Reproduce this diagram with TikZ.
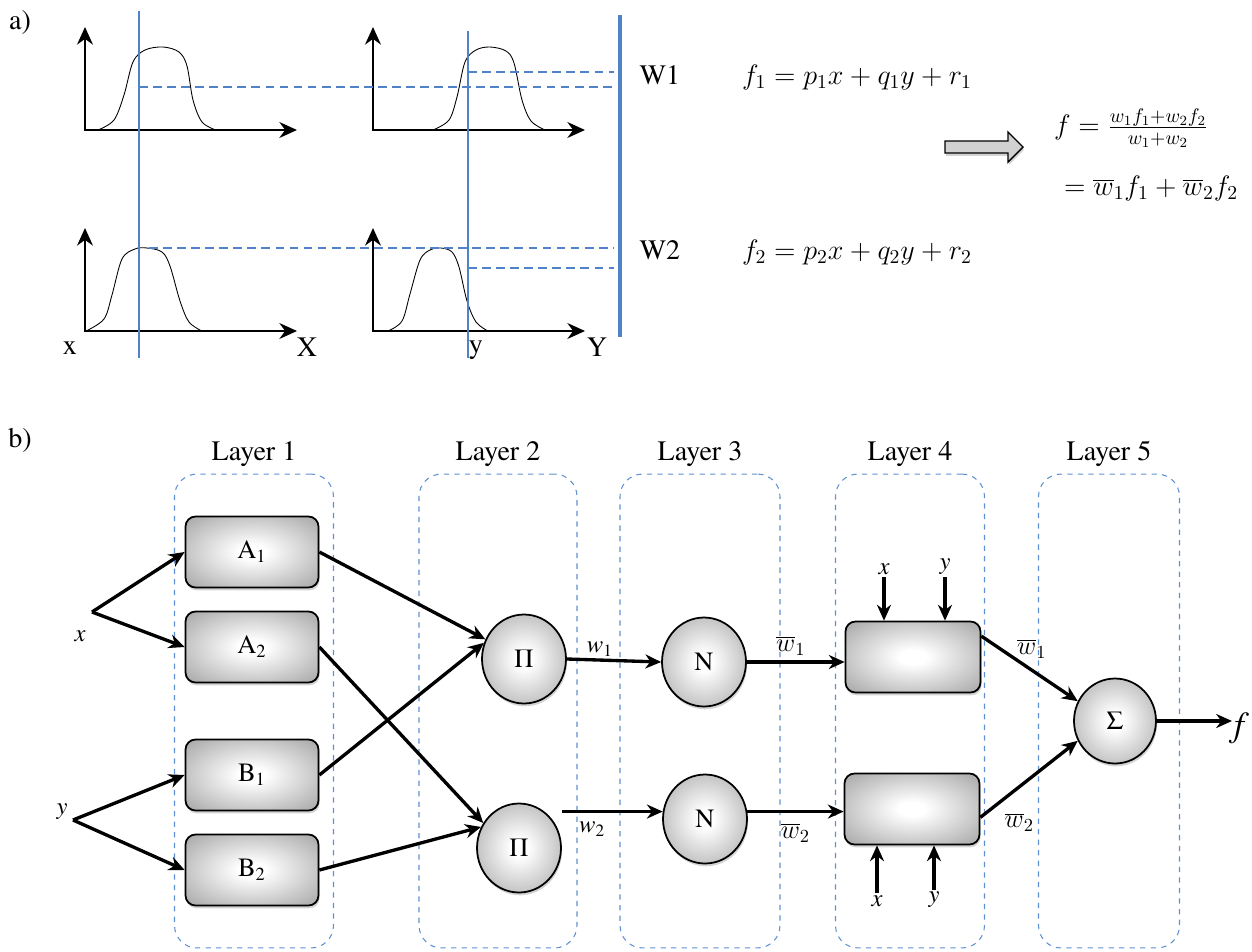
\documentclass[tikz,border=0pt]{standalone}
\usepackage{fix-cm}
\usepackage{fontspec}
\setmainfont{TeX Gyre Termes}
\usepackage{tikz}
\usetikzlibrary{arrows.meta,positioning,shapes.geometric,shadows}
\definecolor{cutblue}{RGB}{80,130,200}
\definecolor{layerblue}{RGB}{95,145,210}
\pgfdeclareradialshading{glow}{\pgfpoint{0bp}{0bp}}{color(0bp)=(white); color(5bp)=(white); color(50bp)=(black!52); color(72bp)=(black!65)}

\begin{document}
\begin{tikzpicture}[x=0.02cm, y=-0.02cm,
		txt/.style={font=\fontsize{16}{19}\selectfont, inner sep=1pt},
		small/.style={font=\fontsize{14}{17}\selectfont, inner sep=1pt},
		lab/.style={font=\fontsize{15}{18}\selectfont, inner sep=1pt},
		axes/.style={line width=1.4pt, {Stealth[length=10pt,width=9pt]}-{Stealth[length=10pt,width=9pt]}},
		bell/.style={line width=0.5pt},
		cut/.style={draw=cutblue, line width=1.3pt},
		level/.style={draw=cutblue, line width=1.2pt, dash pattern=on 5pt off 3pt},
		layer/.style={draw=layerblue, line width=0.6pt, dashed, rounded corners=0.45cm, minimum height=9.48cm, minimum width=#1},
		mf/.style={draw, line width=1pt, rounded corners=0.2cm, shade, shading=glow, minimum width=2.66cm, minimum height=1.42cm, drop shadow={opacity=0.35, shadow xshift=0.6pt, shadow yshift=-1.6pt}, font=\fontsize{15}{18}\selectfont},
		neuron/.style={ellipse, draw, line width=1pt, shade, shading=glow, minimum width=1.68cm, minimum height=1.78cm, drop shadow={opacity=0.35, shadow xshift=0.6pt, shadow yshift=-1.6pt}, font=\fontsize{15}{18}\selectfont},
		conn/.style={line width=1.9pt, -{Stealth[length=9pt,width=8pt]}}]
	\useasboundingbox (0,0) rectangle (1252,951);

	\node[txt] (tagA) at (20,22) {a)};
	\foreach \ox/\oy in {85/130,373/130,85/331,373/331} {
		\draw[axes] (\ox,\oy-103) -- (\ox,\oy) -- (\ox+212,\oy);
	}
	\draw[bell] plot[smooth, tension=0.55] coordinates {(98,130) (114,120) (124,95) (133,62) (145,50) (163,47) (179,52) (187,66) (193,100) (202,122) (216,130)};
	\draw[bell] plot[smooth, tension=0.55] coordinates {(433,130) (449,120) (457,97) (465,62) (476,50) (490,47) (506,51) (514,63) (522,100) (531,121) (545,130)};
	\draw[bell] plot[smooth, tension=0.55] coordinates {(86,331) (104,319) (112,295) (122,259) (135,249) (147,248) (162,252) (170,266) (180,301) (189,322) (202,331)};
	\draw[bell] plot[smooth, tension=0.55] coordinates {(388,331) (402,321) (410,294) (420,260) (430,250) (441,248) (452,252) (459,267) (467,301) (476,322) (488,331)};
	\draw[cut] (139,11) -- (139,358);
	\draw[cut] (468,31) -- (468,358);
	\draw[cutblue, line width=2.8pt] (620,15) -- (620,337);
	\draw[level] (139,87) -- (614,87);
	\draw[level] (468,72) -- (614,72);
	\draw[level] (149,248) -- (614,248);
	\draw[level] (468,268) -- (614,268);
	\node[txt] (xa) at (70,348) {x};
	\node[txt] (Xa) at (307,347) {X};
	\node[txt] (ya) at (476,350) {y};
	\node[txt] (Ya) at (597,347) {Y};
	\node[txt] (W1) at (660,75) {W1};
	\node[txt] (W2) at (660,250) {W2};
	\node[txt, anchor=west] (eqa) at (740,77) {$f_1 = p_1x + q_1y + r_1$};
	\node[txt, anchor=west] (eqb) at (740,252) {$f_2 = p_2x + q_2y + r_2$};
	\draw[line width=0.8pt, fill=black!18, drop shadow={opacity=0.35, shadow xshift=0.6pt, shadow yshift=-1.6pt}] (945,141) -- (1008,141) -- (1008,132) -- (1023,147) -- (1008,162) -- (1008,153) -- (945,153) -- cycle;
	\node[txt, anchor=west] (feq) at (1052,128) {$f = \frac{w_1f_1+w_2f_2}{w_1+w_2}$};
	\node[txt, anchor=west] (fbar) at (1062,188) {$= \overline{w}_1f_1 + \overline{w}_2f_2$};

	\node[txt] (tagB) at (20,440) {b)};
	\foreach \n/\cx/\w in {1/254/3.18,2/498/3.16,3/700/3.2,4/910/2.98,5/1109/2.82} {
		\node[layer=\w cm] (L\n) at (\cx,711) {};
		\node[txt, above=3pt of L\n] (T\n) {Layer \n};
	}
	\node[mf] (A1) at (252,552) {A\textsubscript{1}};
	\node[mf] (A2) at (252,647) {A\textsubscript{2}};
	\node[mf] (B1) at (252,775) {B\textsubscript{1}};
	\node[mf] (B2) at (252,870) {B\textsubscript{2}};
	\node[neuron] (P1) at (524,659) {Π};
	\node[neuron] (P2) at (519,848) {Π};
	\node[neuron] (N1) at (704,662) {N};
	\node[neuron] (N2) at (705,819) {N};
	\node[mf, minimum width=2.7cm] (R1) at (913,657) {};
	\node[mf, minimum width=2.7cm] (R2) at (912,809) {};
	\node[neuron, minimum width=1.64cm, minimum height=1.7cm] (S) at (1115,721) {Σ};

	\coordinate (xin) at (92,612);
	\coordinate (yin) at (73,820);
	\node[small] (xl) at (80,636) {\textit{x}};
	\node[small] (yl) at (62,812) {\textit{y}};
	\draw[conn] (xin) -- (A1.west);
	\draw[conn] (xin) -- (A2.west);
	\draw[conn] (yin) -- (B1.west);
	\draw[conn] (yin) -- (B2.west);
	\draw[conn] (A1.east) -- (P1.153);
	\draw[conn] (B1.east) -- (P1.158);
	\draw[conn] (A2.east) -- (P2.145);
	\draw[conn] (B2.east) -- (P2.151);
	\draw[conn] (P1.east) -- (N1.west) node[small, pos=0.35, above] (w1l) {\textit{w}\textsubscript{1}};
	\draw[conn] (P2.east |- N2.170) -- (N2.170) node[small, pos=0.3, below=4pt] (w2l) {\textit{w}\textsubscript{2}};
	\draw[conn] (N1.east) -- (N1.east -| R1.west) node[lab, pos=0.45, above=2pt] (wb1) {$\overline{w}_1$};
	\draw[conn] (N2.10) -- (N2.10 -| R2.west) node[lab, pos=0.5, below=5pt] (wb2) {$\overline{w}_2$};

	\node[small] (xt) at (884,569) {\textit{x}};
	\node[small] (yt) at (945,567) {\textit{y}};
	\node[small] (xb) at (877,901) {\textit{x}};
	\node[small] (yb) at (934,900) {\textit{y}};
	\draw[conn] (xt.south) -- (xt.south |- R1.north);
	\draw[conn] (yt.south) -- (yt.south |- R1.north);
	\draw[conn] (xb.north) -- (xb.north |- R2.south);
	\draw[conn] (yb.north) -- (yb.north |- R2.south);

	\draw[conn] (R1.17) -- (S.152) node[lab, pos=0.45, above=2pt, xshift=4pt] (wb3) {$\overline{w}_1$};
	\draw[conn] (R2.353) -- (S.208) node[lab, pos=0.4, below=13pt] (wb4) {$\overline{w}_2$};
	\node[anchor=west, inner sep=1pt, font=\fontsize{20}{24}\selectfont] (fo) at (1232,728) {\textit{f}};
	\draw[conn] (S.east) -- (S.east -| fo.west);
\end{tikzpicture}
\end{document}
